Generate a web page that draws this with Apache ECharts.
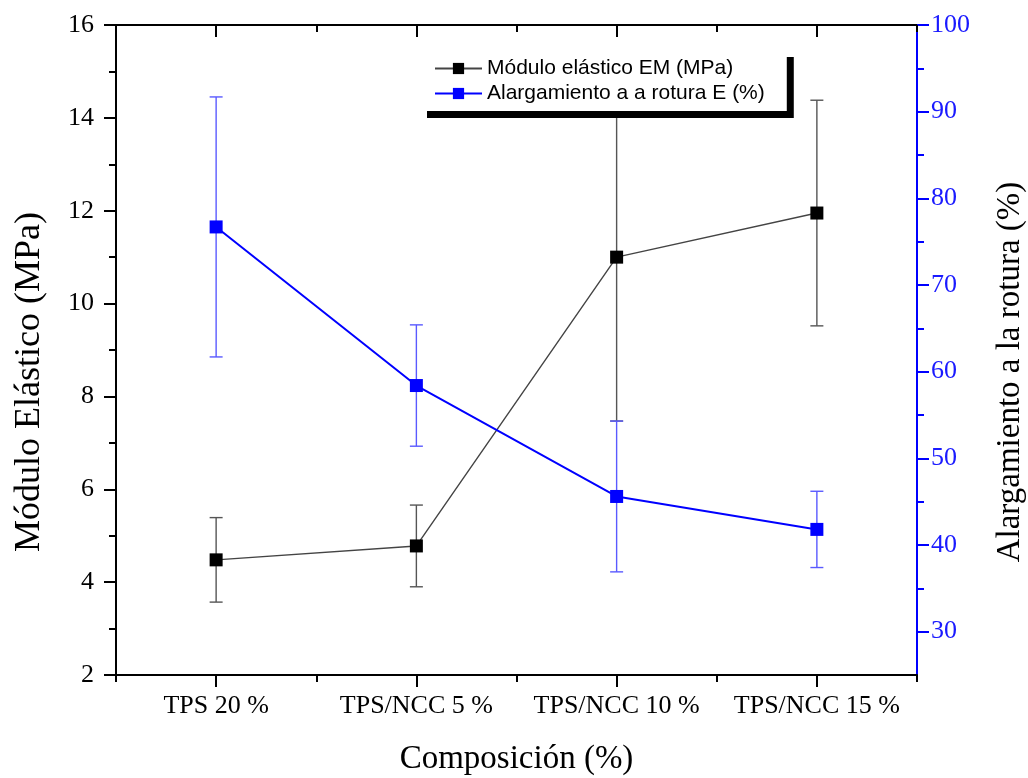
<!DOCTYPE html>
<html>
<head>
<meta charset="utf-8">
<title>Módulo elástico y alargamiento a la rotura</title>
<script src="https://cdn.jsdelivr.net/npm/echarts@6/dist/echarts.min.js"></script>
<style>
  html, body { margin: 0; padding: 0; background: #fff; }
  #chart { width: 1028px; height: 778px; }
</style>
</head>
<body>
<div id="chart"></div>
<script>
// Composition categories
const categories = ['TPS 20 %', 'TPS/NCC 5 %', 'TPS/NCC 10 %', 'TPS/NCC 15 %'];

// Elastic modulus EM (MPa): mean and standard deviation
const moduloMean = [4.48, 4.78, 11.0, 11.95];
const moduloErr = [0.91, 0.88, 3.53, 2.43];

// Elongation at break E (%): mean and standard deviation
const alargMean = [76.7, 58.4, 45.6, 41.8];
const alargErr = [15.0, 7.0, 8.7, 4.4];

// Right axis tick values
const rightTickValues = [30, 40, 50, 60, 70, 80, 90, 100];
const rightMinorValues = [35, 45, 55, 65, 75, 85, 95];

const serif = 'Liberation Serif, Times New Roman, serif';
const sans = 'Liberation Sans, Arial, sans-serif';

function errorItems(means, errs) {
  return means.map((m, i) => [i, m - errs[i], m + errs[i]]);
}

function errorBarRenderer(color) {
  return function (params, api) {
    const x = api.value(0);
    const lo = api.coord([x, api.value(1)]);
    const hi = api.coord([x, api.value(2)]);
    const half = 6.5;
    const style = { stroke: color, lineWidth: 1.4, fill: null };
    return {
      type: 'group',
      children: [
        { type: 'line', shape: { x1: lo[0], y1: lo[1], x2: hi[0], y2: hi[1] }, style },
        { type: 'line', shape: { x1: lo[0] - half, y1: lo[1], x2: lo[0] + half, y2: lo[1] }, style },
        { type: 'line', shape: { x1: hi[0] - half, y1: hi[1], x2: hi[0] + half, y2: hi[1] }, style }
      ]
    };
  };
}

const chart = echarts.init(document.getElementById('chart'), null, { renderer: 'canvas' });

const catAxisBase = {
  type: 'category',
  data: categories,
  boundaryGap: true,
  splitLine: { show: false }
};

const MAJOR = 12;
const MINOR = 7;

chart.setOption({
  animation: false,
  backgroundColor: '#fff',
  grid: { left: 116, right: 111, top: 25, bottom: 103, containLabel: false, outerBoundsMode: 'none' },
  legend: {
    orient: 'vertical',
    left: 420,
    top: 50,
    padding: [8, 22, 7, 14],
    itemGap: 4,
    itemWidth: 47,
    itemHeight: 14,
    backgroundColor: '#fff',
    borderWidth: 0,
    shadowColor: '#000',
    shadowBlur: 0,
    shadowOffsetX: 7,
    shadowOffsetY: 7,
    textStyle: { fontFamily: sans, fontSize: 21, color: '#000' },
    data: ['Módulo elástico EM (MPa)', 'Alargamiento a a rotura E (%)']
  },
  xAxis: [
    Object.assign({}, catAxisBase, {
      position: 'bottom',
      axisLine: { show: true, lineStyle: { color: '#000', width: 2 } },
      axisTick: { show: true, interval: 0, alignWithLabel: true, length: MAJOR, inside: false, lineStyle: { color: '#000', width: 2 } },
      axisLabel: { show: true, interval: 0, margin: 18, fontFamily: serif, fontSize: 26, color: '#000' },
      name: 'Composición (%)',
      nameLocation: 'middle',
      nameGap: 68,
      nameTextStyle: { fontFamily: serif, fontSize: 33, color: '#000' }
    }),
    Object.assign({}, catAxisBase, {
      position: 'bottom',
      axisLine: { show: false },
      axisTick: { show: true, interval: 0, alignWithLabel: false, length: MINOR, inside: false, lineStyle: { color: '#000', width: 2 } },
      axisLabel: { show: false }
    }),
    Object.assign({}, catAxisBase, {
      position: 'top',
      axisLine: { show: true, lineStyle: { color: '#000', width: 2 } },
      axisTick: { show: true, interval: 0, alignWithLabel: true, length: MAJOR, inside: true, lineStyle: { color: '#000', width: 2 } },
      axisLabel: { show: false }
    }),
    Object.assign({}, catAxisBase, {
      position: 'top',
      axisLine: { show: false },
      axisTick: { show: true, interval: 0, alignWithLabel: false, length: MINOR, inside: true, lineStyle: { color: '#000', width: 2 } },
      axisLabel: { show: false }
    })
  ],
  yAxis: [
    {
      type: 'value',
      position: 'left',
      min: 2,
      max: 16,
      interval: 2,
      axisLine: { show: true, lineStyle: { color: '#000', width: 2 } },
      axisTick: { show: true, inside: false, length: MAJOR, lineStyle: { color: '#000', width: 2 } },
      minorTick: { show: true, splitNumber: 2, length: MINOR, lineStyle: { color: '#000', width: 2 } },
      axisLabel: { margin: 22, fontFamily: serif, fontSize: 26, color: '#000' },
      splitLine: { show: false }
    },
    {
      type: 'value',
      position: 'right',
      min: 25,
      max: 100,
      axisLine: { show: true, lineStyle: { color: '#0000ff', width: 2 } },
      axisTick: { show: true, inside: false, length: MAJOR, customValues: rightTickValues, lineStyle: { color: '#0000ff', width: 2 } },
      axisLabel: { margin: 14, fontFamily: serif, fontSize: 26, color: '#1a1aff', customValues: rightTickValues },
      splitLine: { show: false }
    },
    {
      type: 'value',
      position: 'right',
      min: 25,
      max: 100,
      axisLine: { show: false },
      axisTick: { show: true, inside: false, length: MINOR, customValues: rightMinorValues, lineStyle: { color: '#0000ff', width: 2 } },
      axisLabel: { show: false },
      splitLine: { show: false }
    }
  ],
  graphic: [
    {
      type: 'text',
      x: 30,
      y: 382,
      rotation: Math.PI / 2,
      style: {
        text: 'Módulo Elástico (MPa)',
        fontFamily: serif,
        fontSize: 36,
        fill: '#000',
        align: 'center',
        verticalAlign: 'middle'
      }
    },
    {
      type: 'text',
      x: 1010,
      y: 372,
      rotation: Math.PI / 2,
      style: {
        text: 'Alargamiento a la rotura (%)',
        fontFamily: serif,
        fontSize: 33,
        fill: '#000',
        align: 'center',
        verticalAlign: 'middle'
      }
    }
  ],
  series: [
    {
      name: 'Módulo elástico EM (MPa) error',
      type: 'custom',
      xAxisIndex: 0,
      yAxisIndex: 0,
      z: 1,
      renderItem: errorBarRenderer('#555555'),
      encode: { x: 0, y: [1, 2] },
      data: errorItems(moduloMean, moduloErr)
    },
    {
      name: 'Alargamiento a a rotura E (%) error',
      type: 'custom',
      xAxisIndex: 0,
      yAxisIndex: 1,
      z: 1,
      renderItem: errorBarRenderer('#5a5aff'),
      encode: { x: 0, y: [1, 2] },
      data: errorItems(alargMean, alargErr)
    },
    {
      name: 'Módulo elástico EM (MPa)',
      type: 'line',
      xAxisIndex: 0,
      yAxisIndex: 0,
      z: 3,
      symbol: 'rect',
      symbolSize: 13,
      itemStyle: { color: '#000' },
      lineStyle: { color: '#444', width: 1.4 },
      data: moduloMean
    },
    {
      name: 'Alargamiento a a rotura E (%)',
      type: 'line',
      xAxisIndex: 0,
      yAxisIndex: 1,
      z: 3,
      symbol: 'rect',
      symbolSize: 13,
      itemStyle: { color: '#0000ff' },
      lineStyle: { color: '#0000ff', width: 2 },
      data: alargMean
    }
  ]
});
</script>
</body>
</html>
